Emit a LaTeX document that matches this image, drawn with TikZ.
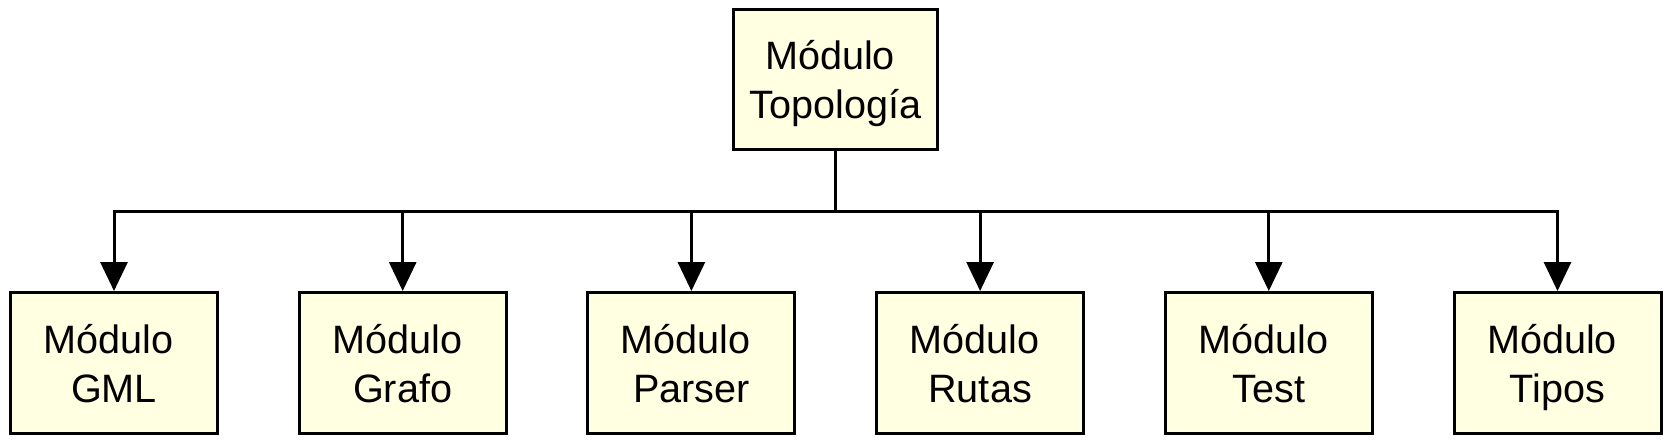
\documentclass[tikz,border=0pt]{standalone}
\usepackage{fontspec}
\setmainfont{Liberation Sans}
\usetikzlibrary{positioning,arrows.meta}
\definecolor{boxfill}{RGB}{255,255,225}
\newcommand{\nodepth}[1]{\raisebox{0pt}[\height][0pt]{#1}}
\begin{document}
\begin{tikzpicture}[node distance=39.35pt,every node/.style={inner sep=1pt}]
\tikzstyle{modbox}=[draw,line width=1.5pt,fill=boxfill,align=center,minimum width=103.5pt,minimum height=70.5pt,font=\fontsize{19.8}{24.5}\selectfont]
\tikzstyle{arrow}=[draw,line width=1.5pt,-{Triangle[width=13.5pt,length=14.5pt]}]
\useasboundingbox (0,0) rectangle (836pt,-222pt);
\node[modbox,minimum width=102pt,minimum height=70pt](m0) at (417.75pt,-39.75pt){Módulo\kern0.28em\\\nodepth{Topología}};

\node[modbox](m1) at (57pt,-181.5pt){Módulo\kern0.28em\\\nodepth{GML}};
\node[modbox,right=of m1](m2){Módulo\kern0.28em\\\nodepth{Grafo}};
\node[modbox,right=of m2](m3){Módulo\kern0.28em\\\nodepth{Parser}};
\node[modbox,right=of m3](m4){Módulo\kern0.28em\\\nodepth{Rutas}};
\node[modbox,right=of m4](m5){Módulo\kern0.28em\\\nodepth{Test}};
\node[modbox,right=of m5](m6){Módulo\kern0.28em\\\nodepth{Tipos}};

\coordinate (bus) at (0,-106pt);
\path[draw,line width=1.5pt](m0.south)--(m0.south |- bus);
\path[draw,line width=1.5pt,line cap=rect](m1.north |- bus)--(m6.north |- bus);
\foreach \i in {1,...,6}
  \path[arrow](m\i.north |- bus)--(m\i.north);
\end{tikzpicture}
\end{document}
